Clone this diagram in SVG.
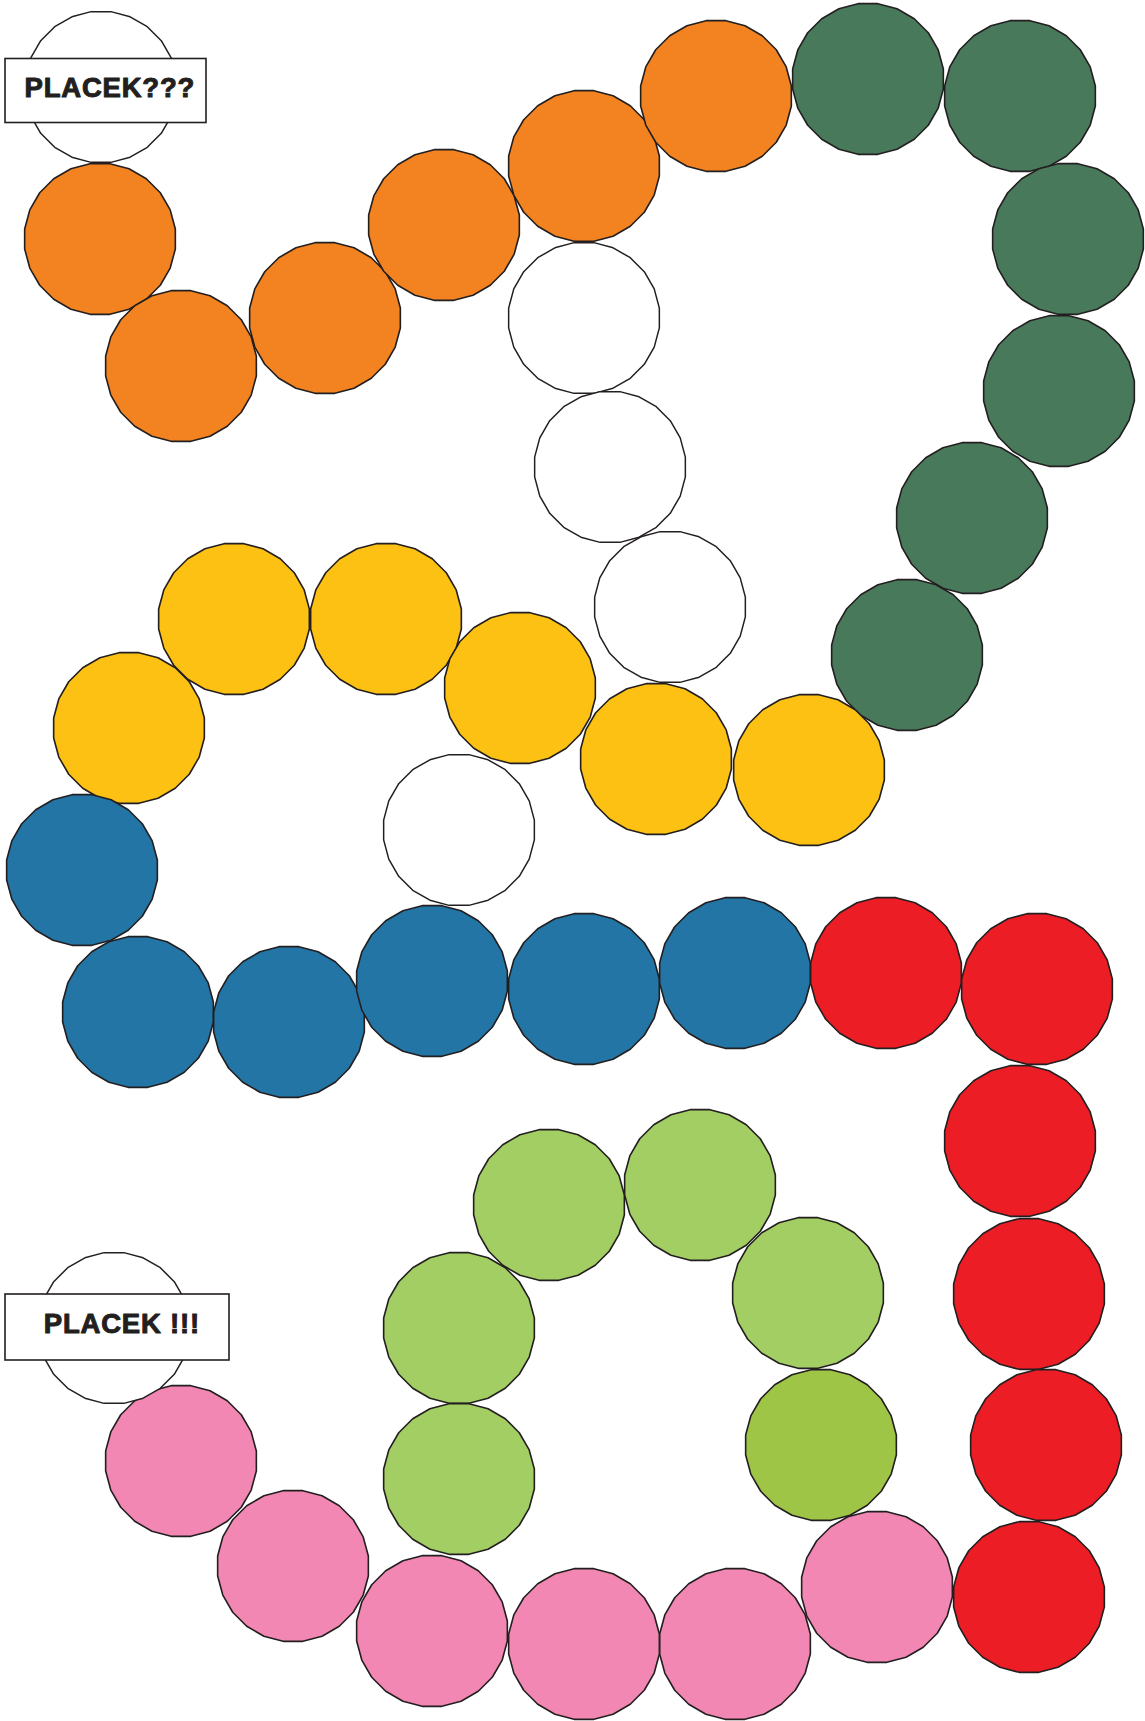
<svg xmlns="http://www.w3.org/2000/svg" xmlns:xlink="http://www.w3.org/1999/xlink" width="1145" height="1721" viewBox="0 0 1145 1721">
<style>
.s{stroke:#231F20;stroke-width:1.6;stroke-linejoin:round}
.w{fill:#FFFFFF;stroke-width:1.5}
.o{fill:#F38321}
.g{fill:#48795A}
.y{fill:#FDC113}
.b{fill:#2375A6}
.r{fill:#ED1D25}
.l{fill:#A3CE63}
.d{fill:#9FC546}
.p{fill:#F287B4}
.box{fill:#FFFFFF;stroke:#231F20;stroke-width:1.6}
.t{font-family:"Liberation Sans",Arial,sans-serif;font-weight:bold;font-size:27.5px;letter-spacing:0.8px;fill:#231F20;stroke:#231F20;stroke-width:1;stroke-linejoin:round}
</style>
<defs>
<polygon id="c" points="75.35,9.92 70.21,29.08 60.29,46.27 46.27,60.29 29.08,70.21 9.92,75.35 -9.92,75.35 -29.08,70.21 -46.27,60.29 -60.29,46.27 -70.21,29.08 -75.35,9.92 -75.35,-9.92 -70.21,-29.08 -60.29,-46.27 -46.27,-60.29 -29.08,-70.21 -9.92,-75.35 9.92,-75.35 29.08,-70.21 46.27,-60.29 60.29,-46.27 70.21,-29.08 75.35,-9.92"/>
</defs>
<g id="connectors"></g>
<g id="start"><use href="#c" class="s w" x="101" y="87"/></g>
<g id="o1"><use href="#c" class="s o" x="100" y="239"/></g>
<g id="o2"><use href="#c" class="s o" x="181" y="366"/></g>
<g id="o3"><use href="#c" class="s o" x="325" y="318"/></g>
<g id="o4"><use href="#c" class="s o" x="444" y="225"/></g>
<g id="o5"><use href="#c" class="s o" x="584" y="166"/></g>
<g id="o6"><use href="#c" class="s o" x="716" y="96"/></g>
<g id="g1"><use href="#c" class="s g" x="868" y="79"/></g>
<g id="g2"><use href="#c" class="s g" x="1020" y="96"/></g>
<g id="g3"><use href="#c" class="s g" x="1068" y="239"/></g>
<g id="g4"><use href="#c" class="s g" x="1059" y="391"/></g>
<g id="g5"><use href="#c" class="s g" x="972" y="518"/></g>
<g id="g6"><use href="#c" class="s g" x="907" y="655"/></g>
<g id="w1"><use href="#c" class="s w" x="584" y="318"/></g>
<g id="w2"><use href="#c" class="s w" x="610" y="467"/></g>
<g id="w3"><use href="#c" class="s w" x="670" y="607"/></g>
<g id="y6"><use href="#c" class="s y" x="129" y="728"/></g>
<g id="y5"><use href="#c" class="s y" x="234" y="619"/></g>
<g id="y4"><use href="#c" class="s y" x="386" y="619"/></g>
<g id="y3"><use href="#c" class="s y" x="520" y="688"/></g>
<g id="y2"><use href="#c" class="s y" x="656" y="759"/></g>
<g id="y1"><use href="#c" class="s y" x="809" y="770"/></g>
<g id="w4"><use href="#c" class="s w" x="459" y="830"/></g>
<g id="b1"><use href="#c" class="s b" x="82" y="870"/></g>
<g id="b2"><use href="#c" class="s b" x="138" y="1012"/></g>
<g id="b3"><use href="#c" class="s b" x="289" y="1022"/></g>
<g id="b4"><use href="#c" class="s b" x="432" y="981"/></g>
<g id="b5"><use href="#c" class="s b" x="584" y="989"/></g>
<g id="b6"><use href="#c" class="s b" x="735" y="973"/></g>
<g id="r1"><use href="#c" class="s r" x="886" y="973"/></g>
<g id="r2"><use href="#c" class="s r" x="1037" y="989"/></g>
<g id="r3"><use href="#c" class="s r" x="1020" y="1141"/></g>
<g id="r4"><use href="#c" class="s r" x="1029" y="1294"/></g>
<g id="r5"><use href="#c" class="s r" x="1046" y="1445"/></g>
<g id="r6"><use href="#c" class="s r" x="1029" y="1597"/></g>
<g id="l1"><use href="#c" class="s l" x="549" y="1205"/></g>
<g id="l2"><use href="#c" class="s l" x="700" y="1185"/></g>
<g id="l3"><use href="#c" class="s l" x="808" y="1293"/></g>
<g id="l4"><use href="#c" class="s d" x="821" y="1445"/></g>
<g id="l5"><use href="#c" class="s l" x="459" y="1328"/></g>
<g id="l6"><use href="#c" class="s l" x="459" y="1479"/></g>
<g id="p1"><use href="#c" class="s p" x="877" y="1587"/></g>
<g id="p2"><use href="#c" class="s p" x="735" y="1644"/></g>
<g id="p3"><use href="#c" class="s p" x="584" y="1644"/></g>
<g id="p4"><use href="#c" class="s p" x="432" y="1631"/></g>
<g id="p5"><use href="#c" class="s p" x="293" y="1566"/></g>
<g id="p6"><use href="#c" class="s p" x="181" y="1461"/></g>
<g id="finish"><use href="#c" class="s w" x="114" y="1328"/></g>
<g id="label-start">
<rect class="box" x="5" y="58.5" width="201" height="64"/>
<text class="t" x="24.5" y="97">PLACEK???</text>
</g>
<g id="label-finish">
<rect class="box" x="5" y="1294" width="224" height="66"/>
<text class="t" x="43.8" y="1333.3">PLACEK !!!</text>
</g>
</svg>
